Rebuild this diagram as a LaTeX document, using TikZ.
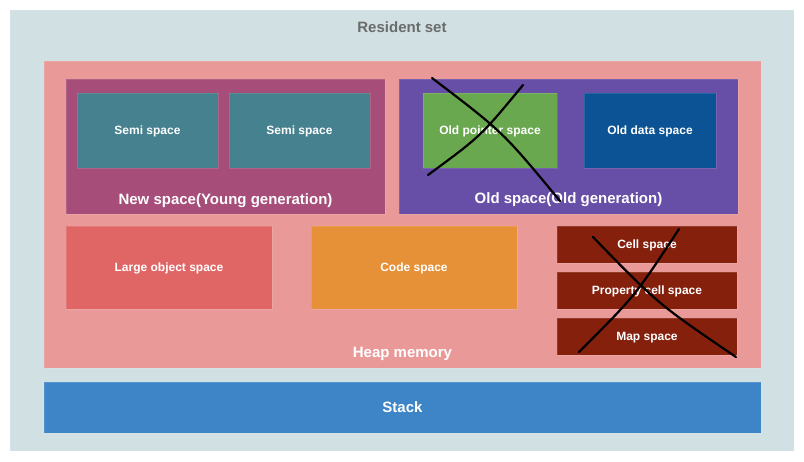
\documentclass[tikz,border=0pt]{standalone}
\usepackage{fontspec}
\setmainfont{Liberation Sans}
\definecolor{rscol}{HTML}{D0E0E3}
\definecolor{heapcol}{HTML}{EA9999}
\definecolor{newcol}{HTML}{A64D79}
\definecolor{semicol}{HTML}{45818E}
\definecolor{oldcol}{HTML}{674EA7}
\definecolor{ptrcol}{HTML}{6AA84F}
\definecolor{datacol}{HTML}{0B5394}
\definecolor{largecol}{HTML}{E06666}
\definecolor{codecol}{HTML}{E69138}
\definecolor{cellcol}{HTML}{85200C}
\definecolor{stackcol}{HTML}{3D85C6}
\tikzstyle{area} = [rectangle, inner sep=0pt, outer sep=0pt, draw=white, draw opacity=0.12, line width=0.8pt]
\tikzstyle{space} = [area, text=white, text depth=0pt, font={\fontsize{12}{14}\selectfont\bfseries}]
\tikzstyle{title} = [text=white, text depth=0pt, font={\fontsize{15}{18}\selectfont\bfseries}]
\tikzstyle{cross} = [draw=black, line width=2.2pt, line cap=round]

\begin{document}
\begin{tikzpicture}[x=1pt,y=-1pt]
    \useasboundingbox[fill=white] (0,0) rectangle (804,461);
    \node[area,fill=rscol,minimum width=784pt,minimum height=441pt](rs) at (402,230.5){};
    \node[title,text=black!58](rslabel) at (402,27){Resident set};
    \node[area,fill=heapcol,minimum width=717pt,minimum height=307pt](heap) at (402.5,214.5){};
    \node[title](heaplabel) at (402.5,352){Heap memory};
    \node[space,fill=stackcol,minimum width=717pt,minimum height=51pt,font={\fontsize{15}{18}\selectfont\bfseries}](stack) at (402.5,407.5){Stack};
    % new space
    \node[area,fill=newcol,minimum width=319pt,minimum height=135pt](new) at (225.5,146.5){};
    \node[title](newlabel) at (225.5,199){New space(Young generation)};
    \node[space,fill=semicol,minimum width=141pt,minimum height=75pt](semi1) at (147.5,130.5){Semi space};
    \node[space,fill=semicol,minimum width=141pt,minimum height=75pt](semi2) at (299.5,130.5){Semi space};
    % old space
    \node[area,fill=oldcol,minimum width=339pt,minimum height=135pt](old) at (568.5,146.5){};
    \node[title](oldlabel) at (568.5,198){Old space(Old generation)};
    \node[space,fill=ptrcol,minimum width=134pt,minimum height=75pt](oldptr) at (490,130.5){Old pointer space};
    \node[space,fill=datacol,minimum width=132pt,minimum height=75pt](olddata) at (650,130.5){Old data space};
    % other spaces
    \node[space,fill=largecol,minimum width=206pt,minimum height=83pt](large) at (169,267.5){Large object space};
    \node[space,fill=codecol,minimum width=206pt,minimum height=83pt](code) at (414,267.5){Code space};
    \node[space,fill=cellcol,minimum width=180pt,minimum height=37pt](cell) at (647,244.5){Cell space};
    \node[space,fill=cellcol,minimum width=180pt,minimum height=37pt](prop) at (647,290.5){Property cell space};
    \node[space,fill=cellcol,minimum width=180pt,minimum height=37pt](map) at (647,336.5){Map space};
    % crossed out
    \draw[cross](432,78) .. controls (503,132) .. (560,201);
    \draw[cross](428,175) .. controls (481,136) .. (523,85);
    \draw[cross](593,237) .. controls (658,304) .. (736,357);
    \draw[cross](579,352) .. controls (635,296) .. (679,229);
\end{tikzpicture}
\end{document}
